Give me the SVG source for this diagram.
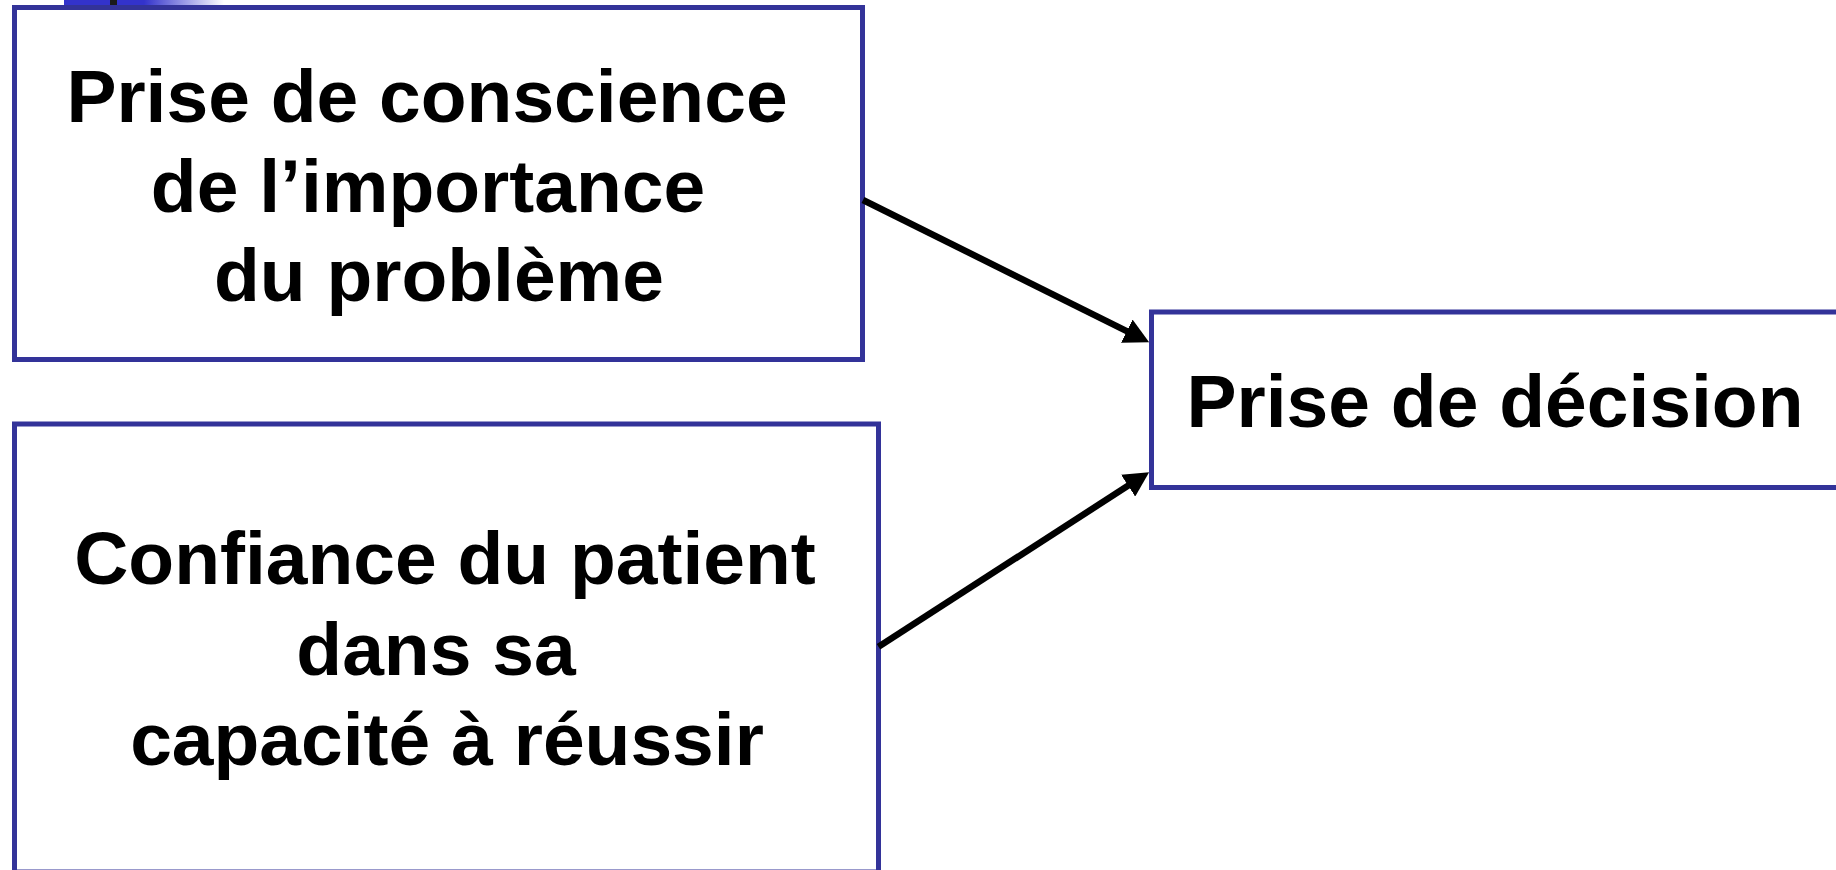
<svg xmlns="http://www.w3.org/2000/svg" width="1836" height="870" viewBox="0 0 1836 870">
  <style>
    .box { fill: #ffffff; stroke: #333399; stroke-width: 5; }
    .label { font-family: "Liberation Sans", Arial, sans-serif; font-weight: bold; font-size: 75px; fill: #000000; text-anchor: middle; }
    .link { stroke: #000000; stroke-width: 6.5; fill: none; marker-end: url(#head); }
  </style>
  <defs>
    <linearGradient id="bar" x1="0" y1="0" x2="1" y2="0">
      <stop offset="0" stop-color="#3333cc"/>
      <stop offset="0.5" stop-color="#3333cc"/>
      <stop offset="1" stop-color="#3333cc" stop-opacity="0"/>
    </linearGradient>
    <marker id="head" markerUnits="userSpaceOnUse" markerWidth="26" markerHeight="26" refX="14" refY="13" orient="auto">
      <path d="M0,0 L25,13 L0,26 z" fill="#000000"/>
    </marker>
  </defs>

  <rect width="1836" height="870" fill="#ffffff"/>

  <!-- title band remnant at top edge -->
  <rect x="64" y="0" width="160" height="5" fill="url(#bar)"/>
  <rect x="110" y="0" width="7" height="5" fill="#1a1a1a"/>

  <g id="node-prise-conscience">
    <rect class="box" x="14.5" y="7.5" width="848" height="352"/>
    <text class="label" x="427" y="122">Prise de conscience</text>
    <text class="label" x="428" y="212">de l’importance</text>
    <text class="label" x="439" y="301">du problème</text>
  </g>

  <g id="node-confiance">
    <rect class="box" x="14.5" y="424" width="864" height="448"/>
    <text class="label" x="445" y="584">Confiance du patient</text>
    <text class="label" x="436" y="675">dans sa</text>
    <text class="label" x="447" y="765">capacité à réussir</text>
  </g>

  <g id="node-decision">
    <rect class="box" x="1151.5" y="312" width="750" height="175.5"/>
    <text class="label" x="1495" y="427">Prise de décision</text>
  </g>

  <g id="connectors">
    <line class="link" x1="863" y1="200" x2="1139.3" y2="337.4"/>
    <line class="link" x1="878.5" y1="646.7" x2="1139.9" y2="478.1"/>
  </g>
</svg>
